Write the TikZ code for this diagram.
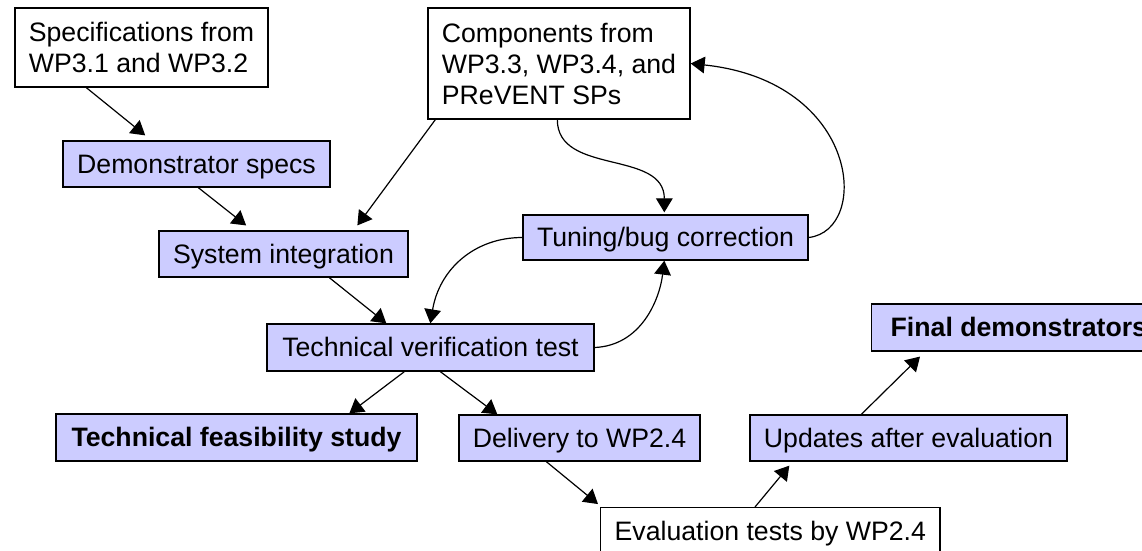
\documentclass[tikz,border=0pt]{standalone}
\usepackage{fontspec}
\setmainfont{Liberation Sans}
\usetikzlibrary{arrows.meta,calc}
\definecolor{boxfill}{RGB}{204,204,255}
\begin{document}
\begin{tikzpicture}[x=0.75pt,y=-0.75pt,
  font=\fontsize{20}{23.25}\selectfont,
  basebox/.style={draw=black, line width=1pt, inner sep=0pt},
  plainbox/.style={basebox, fill=white, align=left},
  lavbox/.style={basebox, fill=boxfill, text height=18.1pt, text depth=4.24pt},
  wh/.style 2 args={minimum width=#1*0.75pt, minimum height=#2*0.75pt},
  arr/.style={line width=0.9pt, -{Triangle[length=10.5pt,width=12.5pt]}}
]
\useasboundingbox (0,0) rectangle (1142,550);
\clip (0,0) rectangle (1142,550);

% nodes
\node[plainbox, wh={253}{79}] (specs) at (141.5,47.5) {Specifications from\\WP3.1 and WP3.2};
\node[plainbox, wh={262}{111}] (comp) at (559,63.5) {Components from\\WP3.3, WP3.4, and\\PReVENT SPs};
\node[lavbox, wh={267}{46}] (demo) at (196.5,164) {Demonstrator specs};
\node[lavbox, wh={249}{46}] (sysint) at (283.5,254) {System integration};
\node[lavbox, wh={285}{45}] (tune) at (665.5,237.5) {Tuning/bug correction};
\node[lavbox, wh={327}{47}] (tvt) at (430.5,347.5) {Technical verification test};
\node[lavbox, wh={361}{47}] (tfs) at (236.5,437.5) {\textbf{Technical feasibility study}};
\node[lavbox, wh={241}{46}] (deliv) at (579.5,438) {Delivery to WP2.4};
\node[lavbox, wh={317}{46}] (upd) at (908.5,438) {Updates after evaluation};
\node[lavbox, minimum height=47*0.75pt, inner xsep=19*0.75pt, anchor=west] (final) at (871,327.5) {\textbf{Final demonstrators}};
\node[lavbox, fill=white, minimum height=47*0.75pt, inner xsep=14*0.75pt, anchor=north west] (eval) at (600,507) {Evaluation tests by WP2.4};

% straight connectors
\draw[arr, shorten >=5.9pt] ($(specs.south west)+(72,0)$) -- ($(demo.north west)+(89,0)$);
\draw[arr, shorten >=5.9pt] ($(demo.south west)+(136,0)$) -- ($(sysint.north west)+(94,0)$);
\draw[arr, shorten >=4.6pt] ($(comp.south west)+(8,0)$) -- ($(sysint.north west)+(195.4,0)$);
\draw[arr] ($(sysint.south west)+(171,0)$) -- ($(tvt.north west)+(120,0)$);
\draw[arr] ($(tvt.south west)+(138,0)$) -- ($(tfs.north west)+(294,0)$);
\draw[arr] ($(tvt.south west)+(174,0)$) -- ($(deliv.north west)+(39,0)$);
\draw[arr, shorten >=3.5pt] ($(deliv.south west)+(88,0)$) -- ($(eval.north west)+(1.6,0)$);
\draw[arr, shorten >=3.9pt] ($(eval.north west)+(155,0)$) -- ($(upd.south west)+(43.3,0)$);
\draw[arr, shorten >=5.25pt] ($(upd.north west)+(112,0)$) -- ($(final.south west)+(54,0)$);

% curved connectors
\draw[arr] (tune.west) .. controls +(-48,0) and +(9,-54) .. ($(tvt.north west)+(164,0)$);
\draw[arr] (tvt.east) .. controls +(46,-2) and +(-5,40) .. ($(tune.south west)+(142,0)$);
\draw[arr, shorten >=1.5pt] ($(comp.south west)+(130,0)$) .. controls +(0,56) and +(0,-65) .. ($(tune.north west)+(142,0)$);
\draw[arr] (tune.east) .. controls +(62,-7) and +(170,18) .. (comp.east);
\end{tikzpicture}
\end{document}
